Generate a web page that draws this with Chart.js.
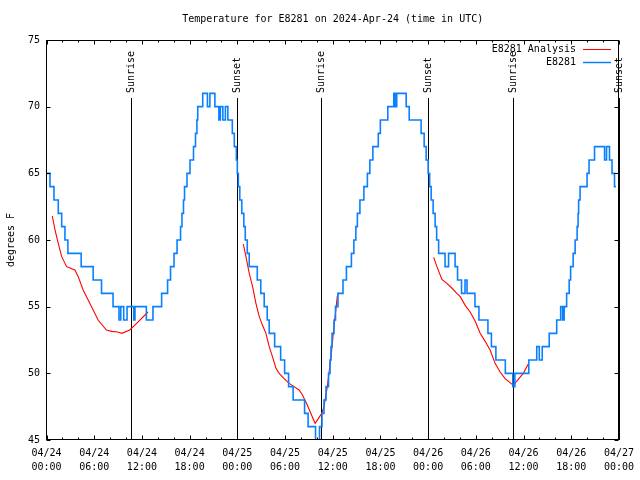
<!DOCTYPE html>
<html><head><meta charset="utf-8">
<script src="https://cdn.jsdelivr.net/npm/chart.js@4.4.1/dist/chart.umd.min.js"></script>
<style>html,body{margin:0;padding:0;background:#fff}#wrap{width:640px;height:480px;position:relative}</style>
</head><body><div id="wrap"><canvas id="c" width="640" height="480"></canvas></div>
<script>
const titleText = 'Temperature for E8281 on 2024-Apr-24 (time in UTC)';
const yAxisLabel = 'degrees F';
const dayLabels = ['04/24', '04/25', '04/26', '04/27'];
const seriesNames = ['E8281 Analysis', 'E8281'];

// hours since 2024-04-24 00:00 UTC ; level starts at that hour
const observedHours = [0.06,0.44,0.94,1.48,1.91,2.32,2.69,4.36,5.87,6.92,8.37,9.12,9.34,9.71,10.13,10.97,11.13,12.56,13.39,
  14.48,15.23,15.60,16.04,16.42,16.86,17.04,17.23,17.36,17.67,18.05,18.49,18.74,18.92,19.02,19.65,20.24,20.55,21.18,21.68,21.87,22.18,22.50,22.81,
  23.37,23.62,23.88,24.00,24.13,24.31,24.56,24.82,25.00,25.25,25.50,26.51,26.95,27.38,27.76,28.01,28.70,29.45,29.95,30.45,31.02,32.46,32.90,33.84,34.03,
  34.34,34.65,34.90,35.16,35.47,35.66,35.78,35.91,36.16,36.35,36.66,37.29,37.72,38.35,38.66,38.91,39.10,39.42,39.92,40.36,40.67,41.05,41.73,41.99,
  42.93,43.68,43.87,44.05,45.24,45.62,47.12,47.50,47.75,48.00,48.19,48.38,48.63,48.88,49.07,49.32,50.13,50.57,51.39,51.70,52.20,52.64,52.89,
  53.89,54.39,55.52,55.96,56.52,57.71,58.65,58.91,60.66,61.66,61.98,62.35,63.23,64.17,64.67,64.92,65.11,65.42,65.74,65.92,66.24,66.49,66.74,
  66.86,66.93,67.11,67.99,68.24,68.93,70.19,70.44,70.81,71.13,71.44,71.63];
const observedTemps = [65,64,63,62,61,60,59,58,57,56,55,54,55,54,55,54,55,54,55,
  56,57,58,59,60,61,62,63,64,65,66,67,68,69,70,71,70,71,70,69,70,69,70,69,
  68,67,66,65,64,63,62,61,60,59,58,57,56,55,54,53,52,51,50,49,48,47,46,45,44,
  46,47,48,49,50,51,52,53,54,55,56,57,58,59,60,61,62,63,64,65,66,67,68,69,
  70,71,70,71,70,69,68,67,66,65,64,63,62,61,60,59,58,59,58,57,56,57,56,
  55,54,53,52,51,50,49,50,51,52,51,52,53,54,55,54,55,56,57,58,59,60,61,
  62,63,64,65,66,67,66,67,66,65,64,64];

const analysisHours = [0.73,1.07,1.48,1.91,2.53,2.95,3.57,3.99,4.61,5.24,5.87,6.49,7.54,8.21,8.96,9.46,10.47,11.34,12.76,
  18,
  24.75,25.09,25.50,25.92,26.34,26.76,27.17,27.60,28.01,28.42,28.85,29.26,29.89,30.52,31.14,31.77,32.18,32.81,33.24,33.78,34.19,34.62,34.90,35.32,35.74,36.16,36.57,36.72,
  42,
  48.69,49.11,49.73,50.36,50.98,51.61,52.04,52.66,53.29,53.92,54.54,55.17,55.80,56.42,57.05,57.68,58.30,58.72,59.34,59.97,60.60];
const analysisTemps = [61.8,60.75,59.75,58.75,58.0,57.9,57.75,57.25,56.25,55.5,54.75,54.0,53.25,53.15,53.1,53.0,53.25,53.75,54.6,
  null,
  59.7,58.75,57.5,56.5,55.25,54.25,53.6,53.0,52.0,51.25,50.4,50.0,49.6,49.25,49.0,48.75,48.4,47.6,47.0,46.25,46.6,47.0,47.5,49.0,51.0,53.5,55.75,56.05,
  null,
  58.7,58.0,57.05,56.75,56.4,56.0,55.75,55.1,54.6,53.9,53.0,52.4,51.75,50.75,50.1,49.6,49.3,49.1,49.55,50.0,50.7];

const sunEventHours = [10.68, 23.96, 34.52, 47.97, 58.67, 71.97];
const sunEventNames = ['Sunrise', 'Sunset', 'Sunrise', 'Sunset', 'Sunrise', 'Sunset'];

const FONT = '10px "DejaVu Sans Mono", "Liberation Mono", monospace';
const BLUE = '#0a80ff';
const RED = '#ff0000';

const observedData = observedHours.map((h, i) => ({x: h, y: observedTemps[i]}));
const analysisData = analysisHours.map((h, i) => ({x: h, y: analysisTemps[i]}));

function pad(n){ return (n < 10 ? '0' : '') + n; }

const decor = {
  id: 'decor',
  beforeDatasetsDraw(chart) {
    const {ctx, chartArea: a, scales: {x}} = chart;
    ctx.save();
    ctx.strokeStyle = '#000'; ctx.lineWidth = 1;
    sunEventHours.forEach(h => {
      const px = Math.round(x.getPixelForValue(h)) + 0.5;
      ctx.beginPath(); ctx.moveTo(px, a.top + 58); ctx.lineTo(px, a.bottom); ctx.stroke();
    });
    ctx.restore();
  },
  afterDraw(chart) {
    const {ctx, chartArea: a, scales: {x, y}} = chart;
    ctx.save();
    ctx.strokeStyle = '#000'; ctx.lineWidth = 1;
    const L = Math.round(a.left) - 0.5, R = Math.round(a.right) - 0.5;
    const T = Math.round(a.top) + 0.5, B = Math.round(a.bottom) - 0.5;
    ctx.strokeRect(L, T, R - L, B - T);
    ctx.beginPath();
    for (let h = 0; h <= 72; h += 2) {
      const px = Math.round(x.getPixelForValue(h)) + 0.5;
      const len = (h % 6 === 0) ? 4 : 2;
      ctx.moveTo(px, B); ctx.lineTo(px, B - len);
      ctx.moveTo(px, T); ctx.lineTo(px, T + len);
    }
    for (let v = 45; v <= 75; v += 5) {
      const py = Math.round(y.getPixelForValue(v)) + 0.5;
      ctx.moveTo(L, py); ctx.lineTo(L + 4, py);
      ctx.moveTo(R, py); ctx.lineTo(R - 4, py);
    }
    ctx.stroke();

    ctx.fillStyle = '#000';
    ctx.font = FONT;
    ctx.textBaseline = 'middle';
    ctx.textAlign = 'center';
    ctx.fillText(titleText, (a.left + a.right) / 2, 19);

    ctx.save();
    ctx.translate(11, (a.top + a.bottom) / 2);
    ctx.rotate(-Math.PI / 2);
    ctx.fillText(yAxisLabel, 0, 0);
    ctx.restore();

    sunEventHours.forEach((h, i) => {
      const px = Math.round(x.getPixelForValue(h)) + 0.5;
      ctx.save();
      ctx.translate(px, a.top + 53);
      ctx.rotate(-Math.PI / 2);
      ctx.textAlign = 'left';
      ctx.fillText(sunEventNames[i], 0, 0);
      ctx.restore();
    });

    const cols = [RED, BLUE];
    seriesNames.forEach((name, i) => {
      const ty = a.top + 9.5 + i * 13;
      ctx.textAlign = 'right';
      ctx.fillStyle = '#000';
      ctx.fillText(name, 576, ty);
      ctx.strokeStyle = cols[i];
      ctx.lineWidth = i === 0 ? 1 : 1.5;
      ctx.beginPath();
      ctx.moveTo(583, Math.round(ty) - 0.5); ctx.lineTo(611, Math.round(ty) - 0.5);
      ctx.stroke();
    });
    ctx.restore();
  }
};

new Chart(document.getElementById('c'), {
  type: 'line',
  data: {
    datasets: [
      {label: seriesNames[1], data: observedData, borderColor: BLUE, borderWidth: 1.6,
       pointRadius: 0, stepped: 'before', fill: false, order: 0},
      {label: seriesNames[0], data: analysisData, borderColor: RED, borderWidth: 1.1,
       pointRadius: 0, tension: 0, spanGaps: false, fill: false, order: 1}
    ]
  },
  options: {
    responsive: false,
    animation: false,
    devicePixelRatio: 1,
    layout: {padding: {top: 40, right: 19.5, left: 0, bottom: 0}},
    plugins: {legend: {display: false}, title: {display: false}, tooltip: {enabled: false}},
    scales: {
      x: {
        type: 'linear', min: 0, max: 72,
        grid: {display: false, drawTicks: false}, border: {display: false},
        afterFit(s) { s.height = 40; },
        ticks: {
          stepSize: 6, autoSkip: false, maxRotation: 0, minRotation: 0, padding: 6,
          color: '#000', font: {family: '"DejaVu Sans Mono", monospace', size: 10, lineHeight: 1.4},
          callback(v) {
            const d = Math.floor(v / 24);
            return [dayLabels[d], pad(v % 24) + ':00'];
          }
        }
      },
      y: {
        type: 'linear', min: 45, max: 75,
        grid: {display: false, drawTicks: false}, border: {display: false},
        afterFit(s) { s.width = 46.5; },
        ticks: {stepSize: 5, padding: 6.5, color: '#000',
          font: {family: '"DejaVu Sans Mono", monospace', size: 10}}
      }
    }
  },
  plugins: [decor]
});
</script>
</body></html>
